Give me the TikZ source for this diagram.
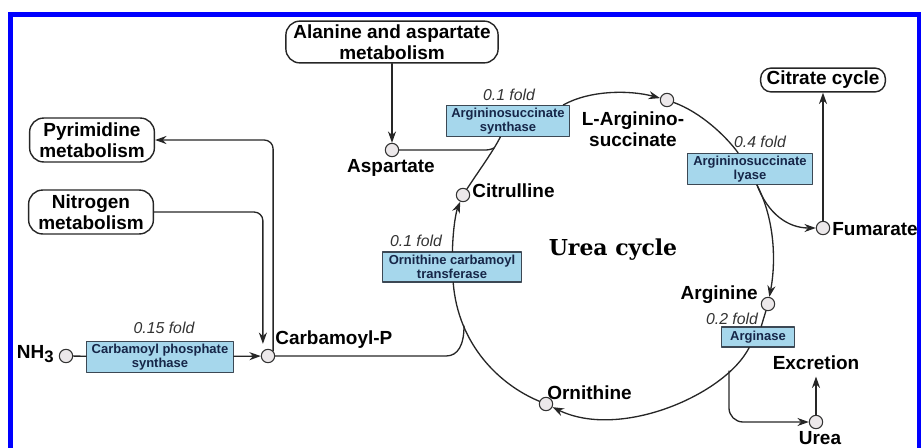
\documentclass[tikz,border=0pt]{standalone}
\usepackage{fontspec}
\setsansfont{Liberation Sans}
\newfontfamily\cyclefont{DejaVu Serif}
\usetikzlibrary{arrows.meta,positioning}
\definecolor{enzfill}{RGB}{166,215,236}
\definecolor{enzdraw}{RGB}{60,72,84}
\definecolor{enztext}{RGB}{22,38,72}
\definecolor{metfill}{RGB}{236,232,234}
\definecolor{framec}{RGB}{0,0,255}
\begin{document}
\begin{tikzpicture}[x=0.02cm,y=-0.02cm,>={Stealth[length=6.5pt,width=4.6pt]}, line join=round, line cap=round,
	met/.style={circle,draw=black!80,fill=metfill,line width=0.6pt,inner sep=0pt,minimum size=7.6pt},
	pathway/.style={draw=black!85,line width=0.8pt,rounded corners=8pt,align=center,inner sep=1pt,font=\sffamily\bfseries\fontsize{10.8}{12}\selectfont},
	enzyme/.style={draw=enzdraw,fill=enzfill,line width=0.7pt,align=center,inner sep=1pt,text=enztext,font=\sffamily\bfseries\fontsize{7.4}{7.6}\selectfont},
	lbl/.style={font=\sffamily\bfseries\fontsize{10.8}{12}\selectfont,inner sep=0pt},
	fold/.style={font=\sffamily\itshape\fontsize{9}{10}\selectfont,text=black!80,inner sep=0pt},
	link/.style={draw=black!85,line width=0.75pt}]
		\useasboundingbox (0,0) rectangle (921,447);
		\draw[framec,line width=2.8pt,line join=miter,line cap=butt] (10.5,460)--(10.5,14.5)--(919.5,14.5)--(919.5,460);
		% pathways
		\node[pathway,minimum width=120.8pt,minimum height=23.8pt] (ala) at (392,42) {Alanine and aspartate\\metabolism};
		\node[pathway,minimum width=71pt,minimum height=25pt] (pyr) at (92,140) {Pyrimidine\\metabolism};
		\node[pathway,minimum width=71pt,minimum height=25pt] (nitro) at (91,212) {Nitrogen\\metabolism};
		\node[pathway,minimum width=71pt,minimum height=13.6pt,rounded corners=6pt] (tca) at (823,80) {Citrate cycle};
		% metabolites
		\node[met] (nh3) at (66,356) {};
		\node[met] (cp) at (268,356) {};
		\node[met] (asp) at (392,150) {};
		\node[met] (ctl) at (463,195) {};
		\node[met] (larg) at (667,100) {};
		\node[met] (fum) at (823,228) {};
		\node[met] (argn) at (768,304) {};
		\node[met] (orn) at (546,404) {};
		\node[met] (urea) at (816,422) {};
		% enzymes
		\node[enzyme,minimum width=83.4pt,minimum height=17.6pt] (cps) at (160,357) {Carbamoyl phosphate\\synthase};
		\node[enzyme,minimum width=79.4pt,minimum height=17pt] (otc) at (452,267) {Ornithine carbamoyl\\transferase};
		\node[enzyme,minimum width=70.3pt,minimum height=17.6pt] (ass) at (508,121) {Argininosuccinate\\synthase};
		\node[enzyme,minimum width=70.9pt,minimum height=17.6pt] (asl) at (750,169) {Argininosuccinate\\lyase};
		\node[enzyme,minimum width=41.4pt,minimum height=11.3pt] (arg) at (758,337) {Arginase};
		% labels
		\node[lbl,anchor=base east] (nh3l) at (54,358) {NH\raisebox{-2.5pt}{\fontsize{9.5}{10}\selectfont 3}};
		\node[lbl,anchor=base west] (cpl) at (275,344) {Carbamoyl-P};
		\node[lbl,anchor=base] (aspl) at (391,172) {Aspartate};
		\node[lbl,anchor=base west] (ctll) at (472,197) {Citrulline};
		\node[lbl,align=center] (largl) at (633,129) {L-Arginino-\\succinate};
		\node[lbl,anchor=base west] (fuml) at (832,235) {Fumarate};
		\node[lbl,anchor=base east] (argnl) at (758,299) {Arginine};
		\node[lbl,anchor=base west] (ornl) at (547,399) {Ornithine};
		\node[lbl,anchor=base] (exc) at (816,369) {Excretion};
		\node[lbl,anchor=base] (ureal) at (820,444) {Urea};
		\node[font=\cyclefont\bfseries\fontsize{12.5}{14}\selectfont,anchor=base] (title) at (613,255) {Urea cycle};
		\node[fold,anchor=base] (f1) at (164,333) {0.15 fold};
		\node[fold,anchor=base] (f2) at (509,100) {0.1 fold};
		\node[fold,anchor=base] (f3) at (416,246) {0.1 fold};
		\node[fold,anchor=base] (f4) at (760,147) {0.4 fold};
		\node[fold,anchor=base] (f5) at (732,324) {0.2 fold};
		% side links
		\draw[link] (nh3)--(cps);
		\draw[link,->] (cps)--(cp);
		\draw[link,->,rounded corners=5pt,shorten >=4pt] (nitro.east) -| (cp.north west);
		\draw[link,->,rounded corners=5pt] (cp.north east) |- (pyr.east);
		\draw[link,->] (ala)--(asp);
		\draw[link,->] (fum)--(tca);
		\draw[link,->,shorten >=4pt] (urea)--(exc);
		% cycle
		\coordinate (jcp) at (464,326);
		\coordinate (jasp) at (494,148);
		\coordinate (jur) at (729,371);
		\draw[link] (cp)--(446,356) .. controls (458,356) and (464,345) .. (jcp);
		\draw[link] (orn) .. controls (500,385) and (458,345) .. (otc);
		\draw[link,->] (otc) .. controls (453,228) and (456,212) .. (ctl);
		\draw[link] (ctl) .. controls (478,172) and (494,150) .. (ass);
		\draw[link] (asp)--(482,150) .. controls (489,150) .. (jasp);
		\draw[link,->] ([xshift=-4pt]ass.north east) .. controls (590,90) and (630,90) .. (larg);
		\draw[link] (larg) .. controls (700,112) and (725,135) .. (asl);
		\draw[link,->] ([xshift=4pt]asl.south) .. controls (768,214) and (788,228) .. (fum);
		\draw[link,->] ([xshift=4pt]asl.south) .. controls (775,220) and (776,262) .. (argn);
		\draw[link] (argn)--(arg);
		\draw[link,->] ([xshift=-5pt]arg.south) .. controls (725,395) and (620,440) .. (orn);
		\draw[link,->,rounded corners=8pt] (jur) |- (urea);
\end{tikzpicture}
\end{document}
